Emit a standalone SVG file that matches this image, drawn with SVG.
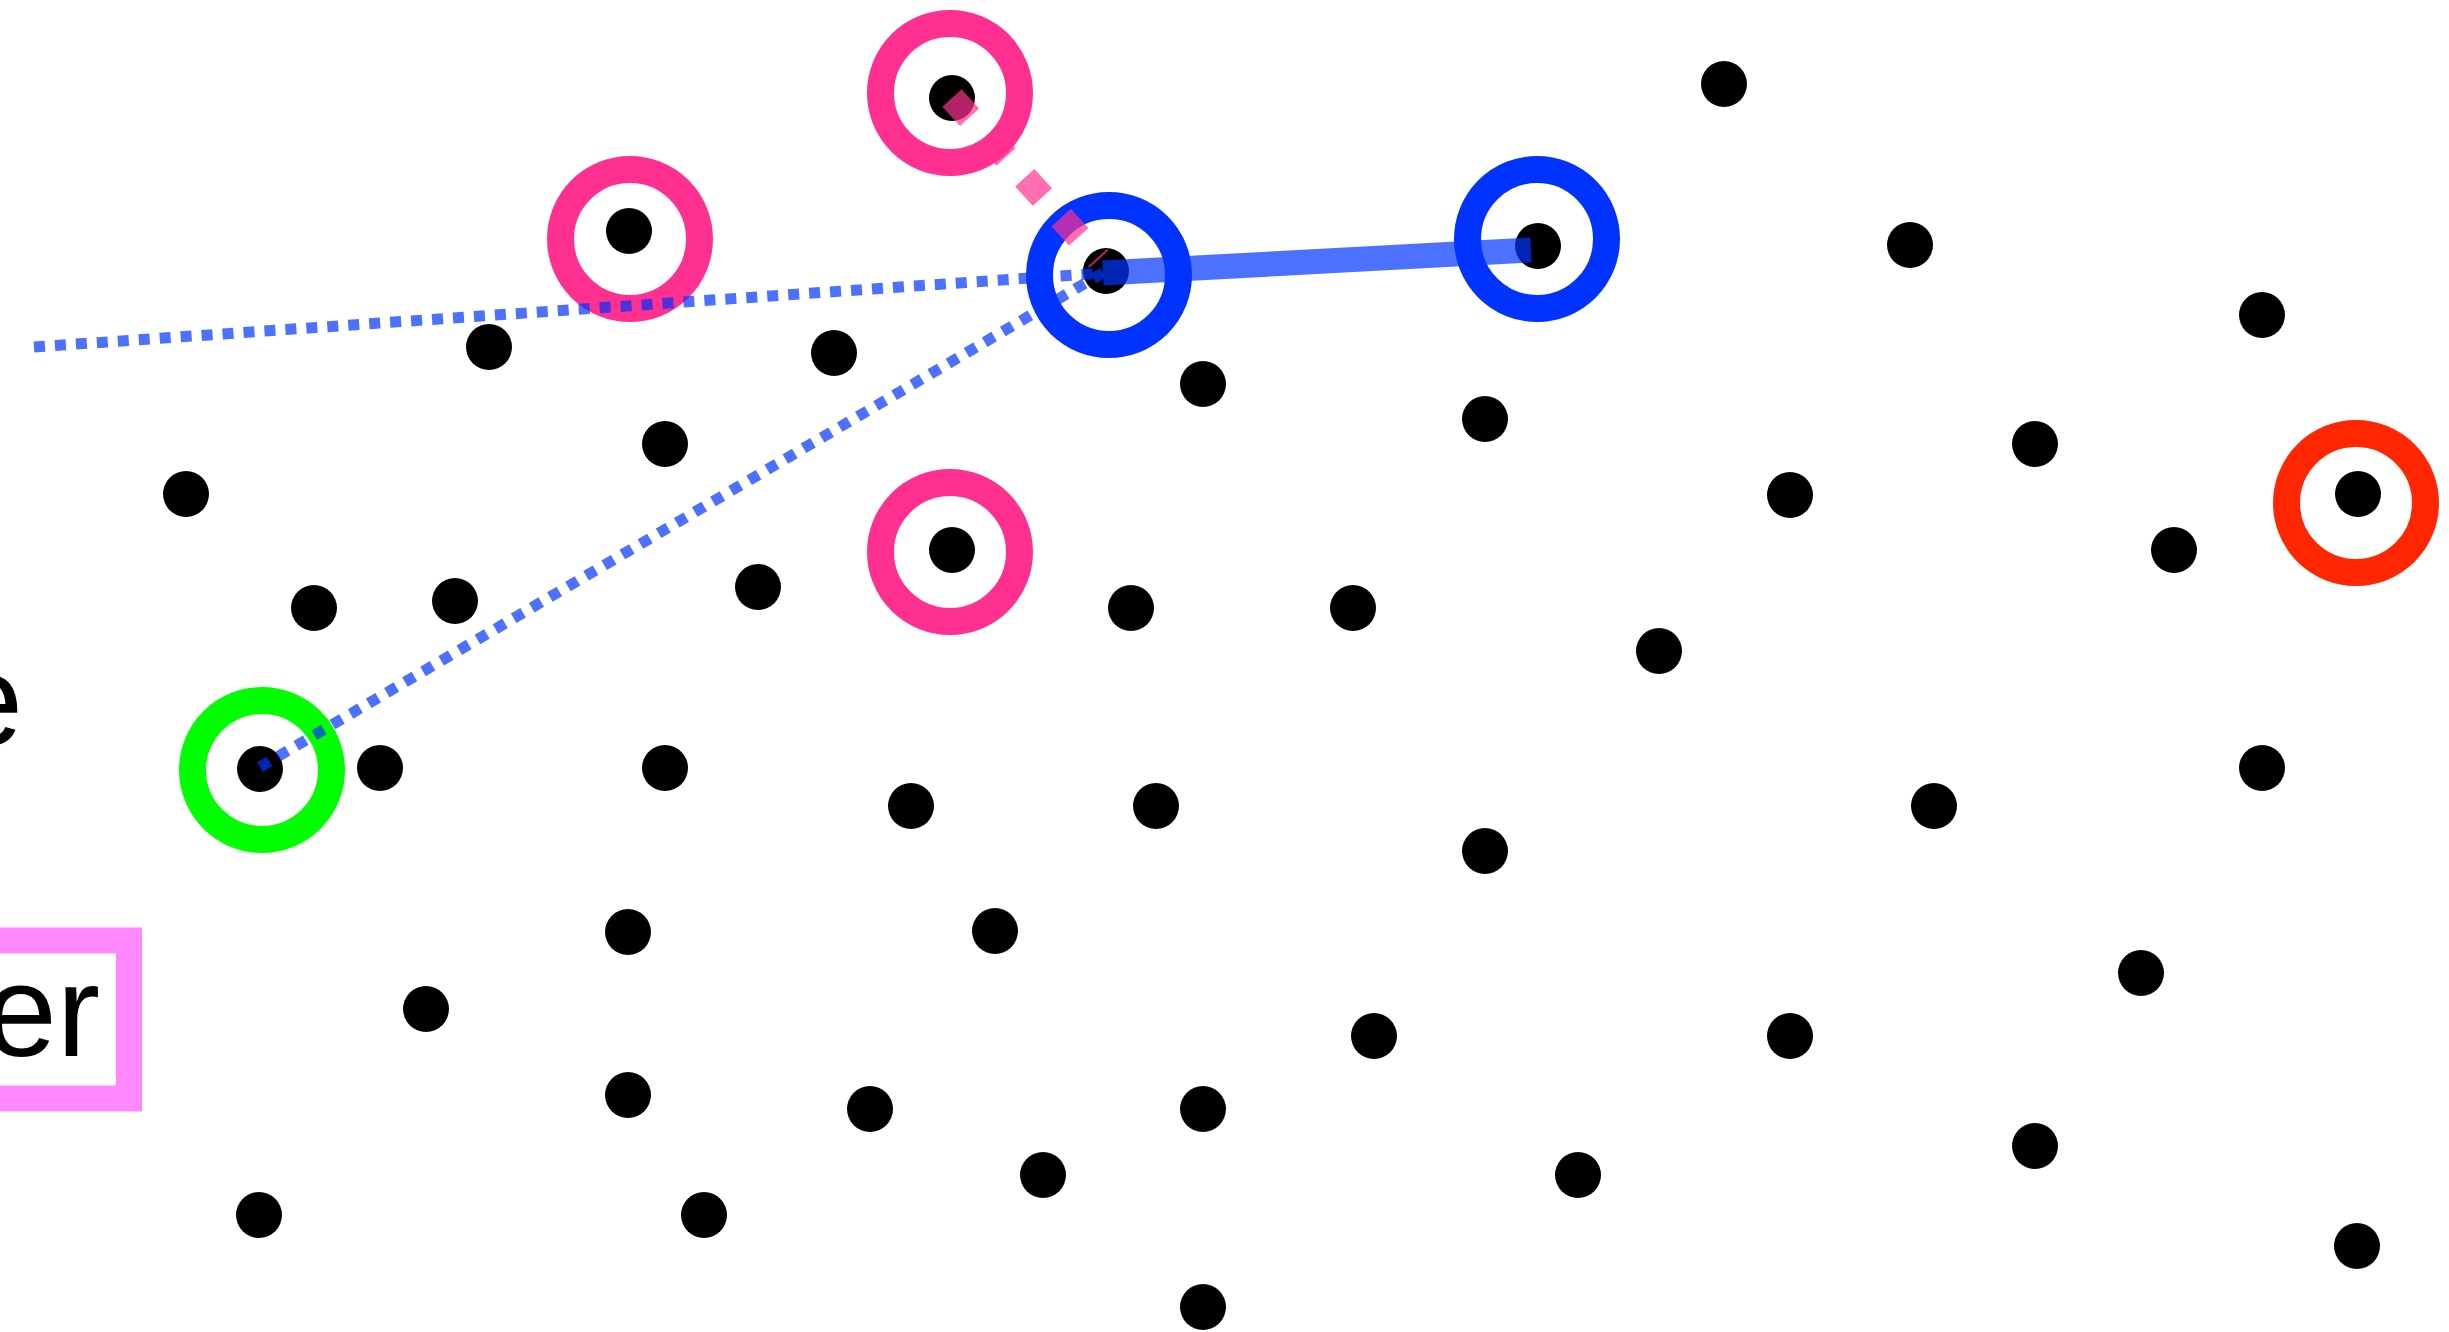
<svg xmlns="http://www.w3.org/2000/svg" width="2449" height="1332" viewBox="0 0 2449 1332">
<style>
.dot{fill:#000}
.ring{fill:none;stroke-width:27}
.pink{stroke:#ff3090}
.blue{stroke:#0033ff}
.green{stroke:#00ff00}
.red{stroke:#ff2600}
.lbl{font-family:"Liberation Sans",Arial,sans-serif;font-size:130px;fill:#000}
.conn{fill:none;stroke-linecap:butt;stroke-opacity:0.7}
.dotted{stroke:#0033ff;stroke-width:11;stroke-dasharray:11 10}
.thick{stroke:#0033ff;stroke-width:25}
.pdash{stroke:#ff3090;stroke-width:26;stroke-dasharray:26 28}
</style>
<rect width="2449" height="1332" fill="#fff"/>
<g id="labels">
<text class="lbl" x="23" y="745" text-anchor="end">e</text>
<g id="boxed-label">
<rect x="-400" y="940.5" width="529" height="158" fill="#fff" stroke="#ff88ff" stroke-width="26"/>
<text class="lbl" x="100" y="1056" text-anchor="end">er</text>
</g>
</g>
<g id="nodes">
<g id="n1"><circle class="dot" cx="1724" cy="84" r="23"/></g>
<g id="n2"><circle class="dot" cx="1910" cy="245" r="23"/></g>
<g id="n3"><circle class="dot" cx="2262" cy="315" r="23"/></g>
<g id="n4"><circle class="dot" cx="489" cy="347" r="23"/></g>
<g id="n5"><circle class="dot" cx="834" cy="353" r="23"/></g>
<g id="n6"><circle class="dot" cx="1203" cy="384" r="23"/></g>
<g id="n7"><circle class="dot" cx="1485" cy="419" r="23"/></g>
<g id="n8"><circle class="dot" cx="665" cy="444" r="23"/></g>
<g id="n9"><circle class="dot" cx="2035" cy="444" r="23"/></g>
<g id="n10"><circle class="dot" cx="186" cy="494" r="23"/></g>
<g id="n11"><circle class="dot" cx="1790" cy="495" r="23"/></g>
<g id="n12"><circle class="dot" cx="2174" cy="550" r="23"/></g>
<g id="n13"><circle class="dot" cx="314" cy="608" r="23"/></g>
<g id="n14"><circle class="dot" cx="455" cy="601" r="23"/></g>
<g id="n15"><circle class="dot" cx="758" cy="587" r="23"/></g>
<g id="n16"><circle class="dot" cx="1131" cy="608" r="23"/></g>
<g id="n17"><circle class="dot" cx="1353" cy="608" r="23"/></g>
<g id="n18"><circle class="dot" cx="1659" cy="651" r="23"/></g>
<g id="n19"><circle class="dot" cx="380" cy="768" r="23"/></g>
<g id="n20"><circle class="dot" cx="665" cy="768" r="23"/></g>
<g id="n21"><circle class="dot" cx="911" cy="806" r="23"/></g>
<g id="n22"><circle class="dot" cx="1156" cy="806" r="23"/></g>
<g id="n23"><circle class="dot" cx="1485" cy="851" r="23"/></g>
<g id="n24"><circle class="dot" cx="1934" cy="806" r="23"/></g>
<g id="n25"><circle class="dot" cx="2262" cy="768" r="23"/></g>
<g id="n26"><circle class="dot" cx="628" cy="932" r="23"/></g>
<g id="n27"><circle class="dot" cx="995" cy="931" r="23"/></g>
<g id="n28"><circle class="dot" cx="426" cy="1009" r="23"/></g>
<g id="n29"><circle class="dot" cx="1374" cy="1036" r="23"/></g>
<g id="n30"><circle class="dot" cx="1790" cy="1036" r="23"/></g>
<g id="n31"><circle class="dot" cx="2141" cy="973" r="23"/></g>
<g id="n32"><circle class="dot" cx="628" cy="1095" r="23"/></g>
<g id="n33"><circle class="dot" cx="870" cy="1109" r="23"/></g>
<g id="n34"><circle class="dot" cx="1203" cy="1109" r="23"/></g>
<g id="n35"><circle class="dot" cx="1043" cy="1175" r="23"/></g>
<g id="n36"><circle class="dot" cx="1578" cy="1175" r="23"/></g>
<g id="n37"><circle class="dot" cx="2035" cy="1146" r="23"/></g>
<g id="n38"><circle class="dot" cx="259" cy="1215" r="23"/></g>
<g id="n39"><circle class="dot" cx="704" cy="1215" r="23"/></g>
<g id="n40"><circle class="dot" cx="1203" cy="1307" r="23"/></g>
<g id="n41"><circle class="dot" cx="2357" cy="1246" r="23"/></g>
<g id="pink-top"><circle class="ring pink" cx="950" cy="93" r="69.5"/><circle class="dot" cx="952" cy="98" r="23"/></g>
<g id="pink-left"><circle class="ring pink" cx="630" cy="239" r="69.5"/><circle class="dot" cx="629" cy="231" r="23"/></g>
<g id="pink-mid"><circle class="ring pink" cx="950" cy="552" r="69.5"/><circle class="dot" cx="952" cy="550" r="23"/></g>
<g id="blue-hub"><circle class="ring blue" cx="1109" cy="275" r="69.5"/><circle class="dot" cx="1106" cy="271" r="23"/></g>
<g id="blue-right"><circle class="ring blue" cx="1537" cy="239" r="69.5"/><circle class="dot" cx="1538" cy="246" r="23"/></g>
<g id="green"><circle class="ring green" cx="262" cy="770" r="69.5"/><circle class="dot" cx="260" cy="769" r="23"/></g>
<g id="red"><circle class="ring red" cx="2356" cy="503" r="69.5"/><circle class="dot" cx="2358" cy="494" r="23"/></g>
</g>
<g id="connectors">
<line class="conn dotted" x1="34" y1="347" x2="1103" y2="273"/>
<line class="conn dotted" x1="260" y1="767" x2="1106" y2="271"/>
<line class="conn thick" x1="1103" y1="273" x2="1531" y2="250"/>
<line class="conn pdash" x1="952" y1="98" x2="1099" y2="259"/>
</g>
</svg>
